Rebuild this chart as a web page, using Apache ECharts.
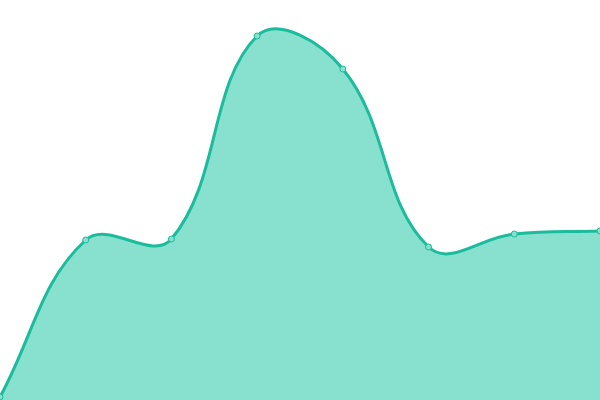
<!DOCTYPE html>
<html>
<head>
<meta charset="utf-8">
<script src="https://cdn.jsdelivr.net/npm/echarts@6/dist/echarts.min.js"></script>
<style>html,body{margin:0;padding:0;background:#fff}#c{width:600px;height:400px}</style>
</head>
<body>
<div id="c"></div>
<script>
var categories = ['A', 'B', 'C', 'D', 'E', 'F', 'G', 'H'];
var values = [3, 160, 161, 364, 331, 153, 166, 169];

var LINE = '#1abc9c', FILL = '#88e0ce', POINT = '#8ae0cf';
var TENSION = 0.4;

function controlPoints(pts) {
  var cps = [];
  for (var i = 0; i < pts.length; i++) {
    var cur = pts[i];
    var prev = pts[i - 1] || cur;
    var next = pts[i + 1] || cur;
    var d01 = Math.hypot(cur[0] - prev[0], cur[1] - prev[1]);
    var d12 = Math.hypot(next[0] - cur[0], next[1] - cur[1]);
    var s01 = d01 / (d01 + d12 || 1);
    var s12 = d12 / (d01 + d12 || 1);
    var fa = TENSION * s01, fb = TENSION * s12;
    cps.push({
      prev: [cur[0] - fa * (next[0] - prev[0]), cur[1] - fa * (next[1] - prev[1])],
      next: [cur[0] + fb * (next[0] - prev[0]), cur[1] + fb * (next[1] - prev[1])]
    });
  }
  return cps;
}

function curvePath(pts) {
  var cps = controlPoints(pts);
  var d = 'M' + pts[0][0] + ' ' + pts[0][1];
  for (var i = 1; i < pts.length; i++) {
    var a = cps[i - 1].next, b = cps[i].prev;
    d += ' C' + a[0] + ' ' + a[1] + ' ' + b[0] + ' ' + b[1] + ' ' + pts[i][0] + ' ' + pts[i][1];
  }
  return d;
}

var chart = echarts.init(document.getElementById('c'));
chart.setOption({
  animation: false,
  grid: { left: 0, right: 0, top: 0, bottom: 0 },
  xAxis: { type: 'category', data: categories, boundaryGap: false, show: false },
  yAxis: { type: 'value', min: 0, max: 400, show: false },
  series: [{
    type: 'custom',
    data: values.map(function (v, i) { return [i, v]; }),
    encode: { x: 0, y: 1 },
    clip: false,
    renderItem: function (params, api) {
      var children = [];
      if (params.dataIndex === 0) {
        var pts = values.map(function (v, i) { return api.coord([i, v]); });
        var base = api.coord([0, 0])[1];
        var line = curvePath(pts);
        var area = line + ' L' + pts[pts.length - 1][0] + ' ' + base + ' L' + pts[0][0] + ' ' + base + ' Z';
        children.push({ type: 'path', shape: { pathData: area }, style: { fill: FILL, stroke: null }, z2: 1 });
        children.push({ type: 'path', shape: { pathData: line }, style: { fill: null, stroke: LINE, lineWidth: 3, lineJoin: 'round' }, z2: 2 });
      }
      var p = api.coord([api.value(0), api.value(1)]);
      children.push({ type: 'circle', shape: { cx: p[0], cy: p[1], r: 3 }, style: { fill: POINT, stroke: LINE, lineWidth: 1 }, z2: 3 });
      return { type: 'group', children: children };
    }
  }]
});
</script>
</body>
</html>
